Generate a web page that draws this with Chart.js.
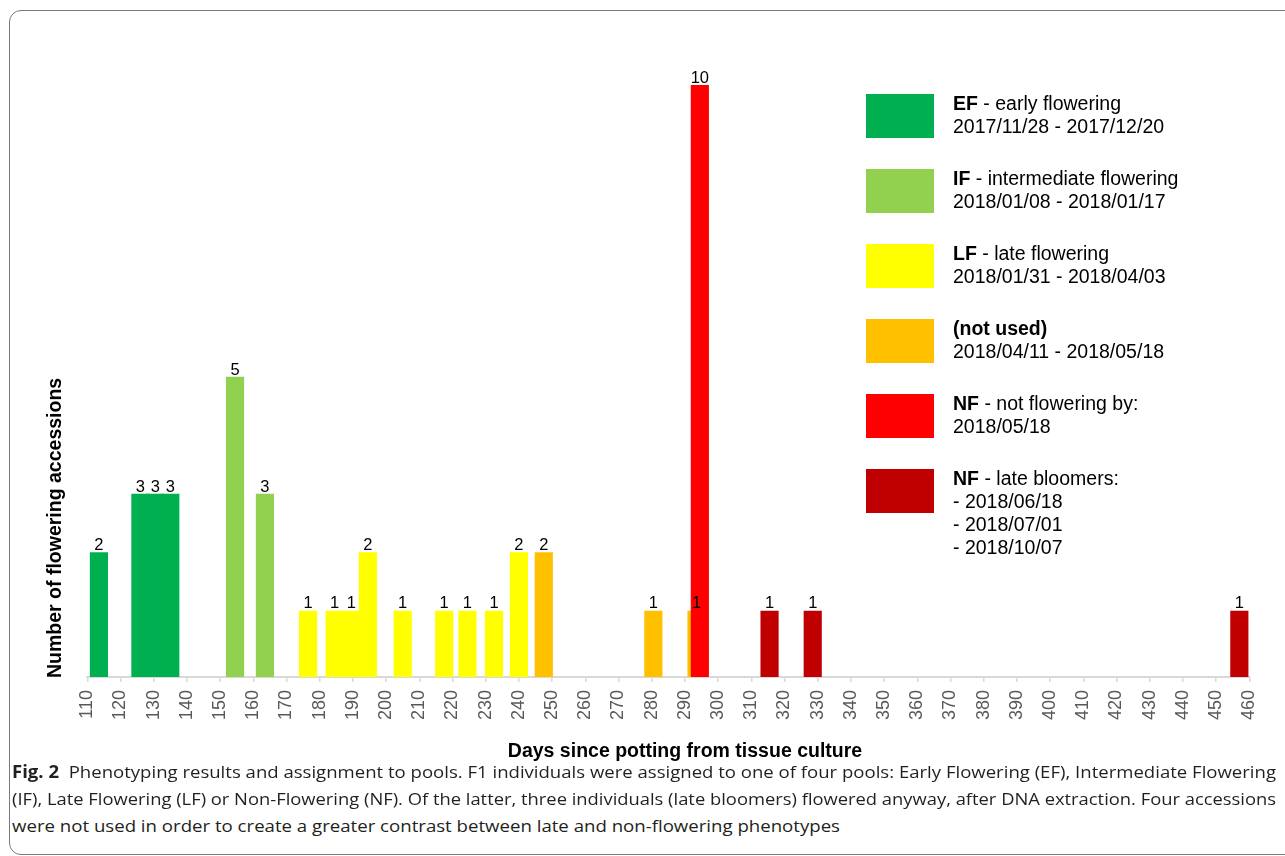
<!DOCTYPE html>
<html>
<head>
<meta charset="utf-8">
<script src="https://cdn.jsdelivr.net/npm/chart.js@4/dist/chart.umd.min.js"></script>
<style>
  html, body { margin:0; padding:0; background:#fff; }
  body { width:1285px; height:856px; position:relative; overflow:hidden; font-family:"Liberation Sans", Arial, sans-serif; }
  #frame { position:absolute; left:8.5px; top:10px; width:1320px; height:845px; border:1.5px solid #7a7a7a; border-radius:12px; box-sizing:border-box; }
  #c { position:absolute; left:0; top:0; }
  #ytitle { position:absolute; left:45px; top:678px; transform-origin:left top; transform:rotate(-90deg); font:bold 19.5px/19.5px "Liberation Sans", Arial, sans-serif; white-space:nowrap; color:#000; }
  #xtitle { position:absolute; left:0; width:1370px; top:740.5px; text-align:center; font:bold 19.5px/19.5px "Liberation Sans", Arial, sans-serif; white-space:nowrap; color:#000; }
  .sw { position:absolute; left:866px; width:68px; height:43.5px; }
  .lt { position:absolute; left:953px; font:19.5px/23.3px "Liberation Sans", Arial, sans-serif; color:#000; white-space:nowrap; }
  .lt b { font-weight:bold; }
  .cap { position:absolute; left:12px; font:17px/26.7px "Open Sans", sans-serif; color:#231f20; white-space:pre; transform-origin:left top; }
  .cap b { font-weight:bold; }
</style>
</head>
<body>
<div id="frame"></div>
<canvas id="c" width="1285" height="740"></canvas>
<div id="ytitle"></div>
<div id="xtitle"></div>
<div id="legend"></div>
<div id="caption"></div>
<script>
// ---- data ----
const efDays = [113.5, 126, 130.5, 135];
const efCounts = [2, 3, 3, 3];
const ifDays = [154.5, 163.5];
const ifCounts = [5, 3];
const lfDays = [176.5, 184.5, 189.5, 194.5, 205, 217.5, 224.5, 232.5, 240];
const lfCounts = [1, 1, 1, 2, 1, 1, 1, 1, 2];
const notUsedDays = [247.5, 280.5, 293.5];
const notUsedCounts = [2, 1, 1];
const nfDays = [294.5];
const nfCounts = [10];
const lateDays = [315.5, 328.5, 457];
const lateCounts = [1, 1, 1];

const xTickValues = [110,120,130,140,150,160,170,180,190,200,210,220,230,240,250,260,270,280,290,300,310,320,330,340,350,360,370,380,390,400,410,420,430,440,450,460];

const seriesColors = ['#00B050', '#92D050', '#FFFF00', '#FFC000', '#FF0000', '#C00000'];
const legendBold = ['EF', 'IF', 'LF', '(not used)', 'NF', 'NF'];
const legendRest = [' - early flowering', ' - intermediate flowering', ' - late flowering', '', ' - not flowering by:', ' - late bloomers:'];
const legendDates = [
  ['2017/11/28 - 2017/12/20'],
  ['2018/01/08 - 2018/01/17'],
  ['2018/01/31 - 2018/04/03'],
  ['2018/04/11 - 2018/05/18'],
  ['2018/05/18'],
  ['- 2018/06/18', '- 2018/07/01', '- 2018/10/07']
];

const yTitle = 'Number of flowering accessions';
const xTitle = 'Days since potting from tissue culture';
const captionBold = 'Fig. 2';
const captionLines = [
  '  Phenotyping results and assignment to pools. F1 individuals were assigned to one of four pools: Early Flowering (EF), Intermediate Flowering',
  '(IF), Late Flowering (LF) or Non-Flowering (NF). Of the latter, three individuals (late bloomers) flowered anyway, after DNA extraction. Four accessions',
  'were not used in order to create a greater contrast between late and non-flowering phenotypes'
];

// ---- helpers ----
function pts(days, counts) { return days.map((d, i) => ({ x: d, y: counts[i] })); }
const Y_MIN = -0.13;

const seriesDays = [efDays, ifDays, lfDays, notUsedDays, nfDays, lateDays];
const seriesCounts = [efCounts, ifCounts, lfCounts, notUsedCounts, nfCounts, lateCounts];
const drawOrder = [1, 1, 1, 1, 0, 1];

const datasets = seriesDays.map((days, i) => ({
  label: legendBold[i] + legendRest[i],
  data: pts(days, seriesCounts[i]),
  backgroundColor: seriesColors[i],
  borderWidth: 0,
  base: Y_MIN,
  order: drawOrder[i],
  grouped: false,
  barThickness: 17.5
}));

const valueLabels = {
  id: 'valueLabels',
  afterDatasetsDraw(chart) {
    const ctx = chart.ctx;
    ctx.save();
    ctx.font = '16.5px "Liberation Sans", Arial, sans-serif';
    ctx.fillStyle = '#000';
    ctx.textAlign = 'center';
    ctx.textBaseline = 'alphabetic';
    chart.data.datasets.forEach((ds, i) => {
      const meta = chart.getDatasetMeta(i);
      meta.data.forEach((bar, j) => {
        ctx.fillText(String(ds.data[j].y), bar.x, bar.y - 2.5);
      });
    });
    ctx.restore();
  }
};

Chart.defaults.font.family = '"Liberation Sans", Arial, sans-serif';

new Chart(document.getElementById('c'), {
  type: 'bar',
  data: { datasets },
  options: {
    responsive: false,
    animation: false,
    events: [],
    layout: { padding: { left: 87.3, right: 35.7, top: 85, bottom: 3 } },
    plugins: { legend: { display: false }, tooltip: { enabled: false } },
    scales: {
      x: {
        type: 'linear',
        min: 110, max: 460,
        offset: false,
        afterBuildTicks(scale) { scale.ticks = xTickValues.map(v => ({ value: v })); },
        afterFit(scale) { scale.height = 60; },
        ticks: {
          autoSkip: false,
          minRotation: 90, maxRotation: 90,
          padding: 8,
          color: '#595959',
          font: { size: 18 },
          callback: (v) => String(v)
        },
        grid: { display: true, drawOnChartArea: false, drawTicks: true, tickLength: 5, color: '#d9d9d9', lineWidth: 1.5, offset: false },
        border: { display: true, color: '#d9d9d9', width: 2 }
      },
      y: {
        type: 'linear',
        min: Y_MIN, max: 10,
        display: false
      }
    }
  },
  plugins: [valueLabels]
});

// ---- HTML texts ----
document.getElementById('ytitle').textContent = yTitle;
document.getElementById('xtitle').textContent = xTitle;

const legendTops = [94, 169, 244, 319, 394, 469];
const legend = document.getElementById('legend');
legendBold.forEach((b, i) => {
  const sw = document.createElement('div');
  sw.className = 'sw';
  sw.style.top = legendTops[i] + 'px';
  sw.style.background = seriesColors[i];
  legend.appendChild(sw);
  const t = document.createElement('div');
  t.className = 'lt';
  t.style.top = (legendTops[i] - 2.5) + 'px';
  const bEl = document.createElement('b');
  bEl.textContent = b;
  t.appendChild(bEl);
  t.appendChild(document.createTextNode(legendRest[i]));
  legendDates[i].forEach(line => {
    t.appendChild(document.createElement('br'));
    t.appendChild(document.createTextNode(line));
  });
  legend.appendChild(t);
});

const capTops = [759.3, 786, 812.7];
const capWidths = [1264, 1264, 828];
const caption = document.getElementById('caption');
captionLines.forEach((line, i) => {
  const d = document.createElement('div');
  d.className = 'cap';
  d.style.top = capTops[i] + 'px';
  if (i === 0) {
    const b = document.createElement('b');
    b.textContent = captionBold;
    d.appendChild(b);
  }
  d.appendChild(document.createTextNode(line));
  caption.appendChild(d);
  const w = d.getBoundingClientRect().width;
  d.style.transform = 'scaleX(' + (capWidths[i] / w) + ')';
});
</script>
</body>
</html>
